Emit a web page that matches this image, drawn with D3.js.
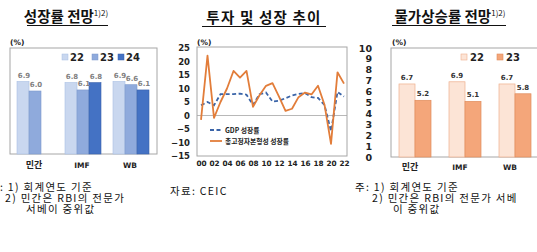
<!DOCTYPE html>
<html><head><meta charset="utf-8">
<script src="https://cdn.jsdelivr.net/npm/d3@7"></script>
<style>
html,body{margin:0;padding:0;background:#fff;overflow:hidden}
svg{display:block}
</style></head>
<body>
<svg id="c" width="537" height="252"></svg>
<script>
// ---------- data ----------
const growthCats = ["민간", "IMF", "WB"];
const growthKeys = ["22", "23", "24"];
const growth22 = [6.9, 6.8, 6.9];
const growth23 = [6.0, 6.1, 6.6];
const growth24 = [null, 6.8, 6.1];

const years = ["00","01","02","03","04","05","06","07","08","09","10","11","12","13","14","15","16","17","18","19","20","21","22"];
const yearTicks = ["00","02","04","06","08","10","12","14","16","18","20","22"];
const gdpGrowth = [3.8, 5.0, 3.8, 7.9, 7.9, 7.9, 8.1, 7.7, 3.9, 7.9, 8.5, 5.2, 5.5, 6.4, 7.4, 8.0, 8.3, 6.8, 6.5, 3.9, -5.8, 8.7, 7.0];
const gfcfGrowth = [-1.6, 22.2, -0.9, 5.0, 10.0, 16.5, 14.0, 16.5, 3.2, 7.5, 11.0, 12.0, 7.0, 1.7, 2.5, 6.8, 8.5, 7.8, 11.0, 4.0, -10.5, 16.0, 11.8];
const lineTicks = [25, 20, 15, 10, 5, 0, -5, -10, -15];

const priceCats = ["민간", "IMF", "WB"];
const priceKeys = ["22", "23"];
const price22 = [6.7, 6.9, 6.7];
const price23 = [5.2, 5.1, 5.8];
const priceTicks = [0,1,2,3,4,5,6,7,8,9,10];

// ---------- drawing ----------
const svg = d3.select("#c");
const KR = "'Noto Sans CJK KR','Noto Sans',sans-serif";
const NUM = "'DejaVu Sans',sans-serif";

function title(cx, y, txt, sup, x0, x1, ls){
  const t = svg.append("text").attr("x", cx).attr("y", y).attr("text-anchor","middle")
    .attr("font-family", KR).attr("font-weight", 700).attr("font-size", 14.5).attr("fill","#111")
    .attr("letter-spacing", ls || 0);
  t.append("tspan").text(txt);
  if (sup) t.append("tspan").attr("font-size", 8).attr("font-weight",400).attr("dy", -6).text(sup);
  svg.append("line").attr("x1", x0).attr("x2", x1).attr("y1", y+3.5).attr("y2", y+3.5)
    .attr("stroke","#111").attr("stroke-width",1.2);
}

function pct(x, y){
  svg.append("text").attr("x", x).attr("y", y).attr("font-family", NUM).attr("font-weight",700)
    .attr("font-size", 7.5).attr("fill","#222").text("(%)");
}

// ===== Left: 성장률 전망 =====
{
  const L = 10, R = 157, T = 48, B = 154;
  title(66, 22, "성장률 전망", "1)2)", 27, 108);
  pct(10, 45);
  svg.append("rect").attr("x", L).attr("y", T).attr("width", R-L).attr("height", B-T)
    .attr("fill","none").attr("stroke","#a6a6a6").attr("stroke-width",1);
  const x0 = d3.scaleBand().domain(growthCats).range([L, R-1]).paddingInner(0.25).paddingOuter(0.146);
  const x1 = d3.scaleBand().domain(growthKeys).range([0, x0.bandwidth()]);
  const y = d3.scaleLinear().domain([0, 10]).range([B, 49]);
  const fills = {"22":"#c9d7ef","23":"#8faadc","24":"#4472c4"};
  const strokes = {"22":"#a9bfe3","23":"#7d99cc","24":"#3a62ab"};
  const vals = {"22":growth22,"23":growth23,"24":growth24};
  const data = [];
  growthCats.forEach((c,i)=>growthKeys.forEach(k=>{ if(vals[k][i]!=null) data.push({c,k,v:vals[k][i]}); }));
  svg.append("g").selectAll("rect").data(data).join("rect")
    .attr("x", d=>x0(d.c)+x1(d.k)).attr("width", x1.bandwidth())
    .attr("y", d=>y(d.v)).attr("height", d=>B-y(d.v))
    .attr("fill", d=>fills[d.k]).attr("stroke", d=>strokes[d.k]).attr("stroke-width",0.6);
  svg.append("g").selectAll("text").data(data).join("text")
    .attr("x", d=>x0(d.c)+x1(d.k)+x1.bandwidth()/2 + 1).attr("y", d=>y(d.v)-4)
    .attr("text-anchor","middle").attr("font-family",NUM).attr("font-weight",700)
    .attr("font-size",7).attr("fill","#7f7f7f").text(d=>d.v.toFixed(1));
  svg.append("g").selectAll("text").data(growthCats).join("text")
    .attr("x", d=>x0(d)+x0.bandwidth()/2 - 1).attr("y", 168).attr("text-anchor","middle")
    .attr("font-family", d=> d==="민간"?KR:NUM).attr("font-weight",700).attr("font-size", d=>d==="민간"?9:7.5)
    .attr("fill","#222").text(d=>d);
  const lg = svg.append("g");
  const lx = [62, 92, 118];
  growthKeys.forEach((k,i)=>{
    lg.append("rect").attr("x", lx[i]).attr("y", 54).attr("width",6).attr("height",6)
      .attr("fill", fills[k]).attr("stroke", strokes[k]).attr("stroke-width",0.5);
    lg.append("text").attr("x", lx[i]+8).attr("y", 61).attr("font-family",NUM).attr("font-weight",700)
      .attr("font-size",10).attr("fill","#222").text(k);
  });
}

// ===== Middle: 투자 및 성장 추이 =====
{
  const L = 197, R = 347, T = 47, B = 156;
  title(264, 23, "투자  및  성장  추이", null, 202, 326, 1.2);
  pct(197, 45);
  const x = d3.scalePoint().domain(years).range([201, 344]);
  const y = d3.scaleLinear().domain([-15, 25]).range([B, 48]);
  svg.append("rect").attr("x", L).attr("y", T).attr("width", R-L).attr("height", B-T)
    .attr("fill","none").attr("stroke","#a6a6a6").attr("stroke-width",1);
  svg.append("line").attr("x1", L).attr("x2", R).attr("y1", y(0)).attr("y2", y(0))
    .attr("stroke","#a6a6a6").attr("stroke-width",0.8);
  const yAxis = svg.append("g").attr("transform", `translate(${L},0)`)
    .call(d3.axisLeft(y).tickValues(lineTicks).tickSize(0).tickPadding(7));
  yAxis.select(".domain").remove();
  yAxis.selectAll("text").attr("font-family",NUM).attr("font-weight",700).attr("font-size",8.5).attr("fill","#222");
  const xAxis = svg.append("g").attr("transform", `translate(0,${B})`)
    .call(d3.axisBottom(x).tickValues(yearTicks).tickSize(0).tickPadding(5));
  xAxis.select(".domain").remove();
  xAxis.selectAll("text").attr("font-family",NUM).attr("font-weight",700).attr("font-size",7.3).attr("fill","#222");
  const line = d3.line().x((d,i)=>x(years[i])).y(d=>y(d));
  svg.append("path").datum(gdpGrowth).attr("d", line).attr("fill","none")
    .attr("stroke","#3a64a8").attr("stroke-width",1.8).attr("stroke-dasharray","4,2.5");
  svg.append("path").datum(gfcfGrowth).attr("d", line).attr("fill","none")
    .attr("stroke","#e27d3a").attr("stroke-width",1.8).attr("stroke-linejoin","round");
  svg.append("line").attr("x1",210).attr("x2",222).attr("y1",130).attr("y2",130)
    .attr("stroke","#3a64a8").attr("stroke-width",1.8).attr("stroke-dasharray","4,2.5");
  svg.append("text").attr("x",225).attr("y",132.5).attr("font-family",KR).attr("font-weight",700)
    .attr("font-size",6.8).attr("fill","#222").text("GDP 성장률");
  svg.append("line").attr("x1",210).attr("x2",222).attr("y1",141).attr("y2",141)
    .attr("stroke","#e27d3a").attr("stroke-width",1.8);
  svg.append("text").attr("x",225).attr("y",143.5).attr("font-family",KR).attr("font-weight",700)
    .attr("font-size",6.8).attr("fill","#222").text("총고정자본형성 성장률");
}

// ===== Right: 물가상승률 전망 =====
{
  const L = 391, R = 539, T = 48, B = 157;
  title(450, 22, "물가상승률 전망", "1)2)", 392, 506);
  pct(392, 45);
  svg.append("rect").attr("x", L).attr("y", T).attr("width", R-L).attr("height", B-T)
    .attr("fill","none").attr("stroke","#a6a6a6").attr("stroke-width",1);
  const x0 = d3.scaleBand().domain(priceCats).range([L, R]).paddingInner(0.36).paddingOuter(0.16);
  const x1 = d3.scaleBand().domain(priceKeys).range([0, x0.bandwidth()]);
  const y = d3.scaleLinear().domain([0, 10]).range([B, 48]);
  const yAxis = svg.append("g").attr("transform", `translate(${L},0)`)
    .call(d3.axisLeft(y).tickValues(priceTicks).tickSize(0).tickPadding(19));
  yAxis.select(".domain").remove();
  yAxis.selectAll("text").attr("font-family",NUM).attr("font-weight",700).attr("font-size",9.5).attr("fill","#222");
  const fills = {"22":"#fce4d6","23":"#f4a67a"};
  const strokes = {"22":"#eeb08e","23":"#e08c5c"};
  const vals = {"22":price22,"23":price23};
  const data = [];
  priceCats.forEach((c,i)=>priceKeys.forEach(k=>data.push({c,k,v:vals[k][i]})));
  svg.append("g").selectAll("rect").data(data).join("rect")
    .attr("x", d=>x0(d.c)+x1(d.k)).attr("width", x1.bandwidth())
    .attr("y", d=>y(d.v)).attr("height", d=>B-y(d.v))
    .attr("fill", d=>fills[d.k]).attr("stroke", d=>strokes[d.k]).attr("stroke-width",0.7);
  svg.append("g").selectAll("text").data(data).join("text")
    .attr("x", d=>x0(d.c)+x1(d.k)+x1.bandwidth()/2).attr("y", d=>y(d.v)-4)
    .attr("text-anchor","middle").attr("font-family",NUM).attr("font-weight",700)
    .attr("font-size",7).attr("fill","#333").text(d=>d.v.toFixed(1));
  svg.append("g").selectAll("text").data(priceCats).join("text")
    .attr("x", d=>x0(d)+x0.bandwidth()/2 - 5).attr("y", 170).attr("text-anchor","middle")
    .attr("font-family", d=> d==="민간"?KR:NUM).attr("font-weight",700).attr("font-size", d=>d==="민간"?9:7.5)
    .attr("fill","#222").text(d=>d);
  const lx = [461, 497];
  priceKeys.forEach((k,i)=>{
    svg.append("rect").attr("x", lx[i]).attr("y", 54).attr("width",6).attr("height",6)
      .attr("fill", fills[k]).attr("stroke", strokes[k]).attr("stroke-width",0.6);
    svg.append("text").attr("x", lx[i]+9).attr("y", 61).attr("font-family",NUM).attr("font-weight",700)
      .attr("font-size",10).attr("fill","#222").text(k);
  });
}

// ===== Footnotes =====
function note(x, y, txt){
  svg.append("text").attr("x", x).attr("y", y).attr("font-family", KR).attr("font-size", 10.5)
    .attr("letter-spacing", 1.3).attr("fill","#111").text(txt);
}
note(-11, 191, "주: 1) 회계연도 기준");
note(5, 202, "2) 민간은 RBI의 전문가");
note(26, 213, "서베이 중위값");
note(170, 195, "자료: CEIC");
note(355, 191, "주: 1) 회계연도 기준");
note(372, 202, "2) 민간은 RBI의 전문가 서베");
note(393, 213, "이 중위값");
</script>
</body></html>
